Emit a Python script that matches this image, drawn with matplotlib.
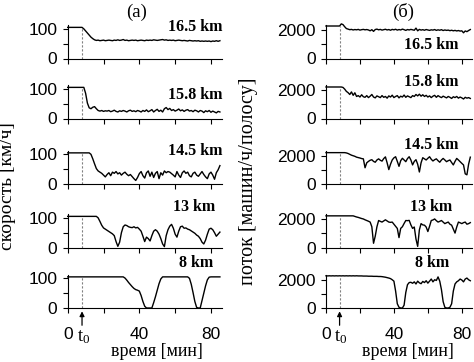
import matplotlib
matplotlib.use("Agg")
import matplotlib.pyplot as plt

plt.rcParams["font.family"] = ["Liberation Sans", "DejaVu Sans"]

SERIF = ["Liberation Serif", "DejaVu Serif"]

# время, мин (шаг 1 мин) и момент t0
minutes = list(range(86))
t0 = 8

stations = ["16.5 km", "15.8 km", "14.5 km", "13 km", "8 km"]

# скорость, км/ч
speed_165 = [105, 105, 105, 105, 105, 105, 105, 105, 105, 100,
             93, 86, 79, 72, 67, 63, 61, 62, 60, 61,
             62, 60, 61, 62, 61, 60, 62, 61, 63, 61,
             62, 64, 61, 62, 60, 61, 62, 61, 62, 60,
             61, 62, 61, 60, 62, 61, 62, 61, 63, 62,
             61, 62, 63, 64, 62, 63, 61, 62, 61, 62,
             60, 61, 62, 61, 60, 61, 60, 59, 61, 60,
             59, 60, 59, 60, 58, 59, 58, 59, 58, 59,
             57, 59, 58, 60, 58, 60]
speed_158 = [105, 105, 105, 105, 105, 105, 105, 105, 105, 105,
             85, 52, 36, 33, 38, 40, 33, 27, 25, 27,
             24, 26, 25, 27, 23, 25, 28, 24, 22, 26,
             24, 27, 25, 22, 26, 28, 24, 26, 23, 27,
             25, 22, 27, 24, 29, 23, 26, 30, 22, 27,
             31, 24, 28, 22, 33, 37, 30, 34, 27, 30,
             25, 28, 32, 26, 29, 24, 28, 30, 25, 27,
             23, 28, 26, 22, 27, 25, 20, 26, 23, 27,
             21, 25, 22, 19, 24, 22]
speed_145 = [105, 105, 105, 105, 105, 105, 105, 105, 105, 105,
             105, 105, 105, 100, 85, 68, 52, 44, 40, 36,
             30, 24, 32, 38, 28, 40, 36, 42, 34, 38,
             30, 36, 40, 33, 28, 32, 25, 18, 12, 22,
             35, 42, 28, 20, 38, 44, 26, 40, 22, 36,
             42, 18, 38, 30, 44, 38, 42, 40, 35, 30,
             24, 42, 30, 22, 38, 44, 36, 40, 28, 24,
             36, 40, 30, 26, 34, 42, 32, 24, 18, 34,
             40, 30, 16, 38, 48, 62]
speed_13 = [105, 105, 105, 105, 105, 105, 105, 105, 105, 105,
            105, 105, 105, 105, 105, 105, 105, 100, 88, 75,
            66, 62, 58, 54, 50, 46, 40, 20, 4, 18,
            50, 70, 76, 74, 70, 68, 67, 70, 66, 68,
            62, 55, 38, 20, 35, 30, 22, 40, 55, 60,
            55, 45, 30, 12, 3, 40, 60, 72, 78, 65,
            45, 35, 55, 70, 72, 65, 66, 62, 60, 56,
            52, 48, 42, 38, 30, 18, 12, 25, 45, 62,
            65, 60, 50, 38, 45, 52]
speed_8 = [105, 105, 105, 105, 105, 105, 105, 105, 105, 105,
           105, 105, 105, 105, 105, 105, 105, 105, 105, 105,
           105, 105, 105, 105, 105, 105, 105, 105, 105, 105,
           105, 105, 101, 94, 86, 79, 72, 66, 62, 60,
           57, 42, 22, 6, 0, 0, 0, 0, 18, 38,
           60, 82, 98, 105, 105, 105, 105, 105, 105, 105,
           105, 105, 105, 105, 105, 105, 105, 105, 100, 80,
           52, 22, 2, 0, 0, 25, 50, 75, 95, 104,
           105, 105, 105, 105, 105, 105]

# поток, машин/ч/полосу
flow_165 = [2300, 2300, 2300, 2300, 2300, 2300, 2300, 2300, 2300, 2450,
            2400, 2250, 2120, 2080, 2040, 2060, 2020, 2050, 2030, 2060,
            2010, 2040, 2060, 2030, 2050, 2020, 1960, 2040, 1920, 2050,
            2080, 2030, 2060, 2010, 2040, 2070, 2020, 2050, 2000, 2060,
            2030, 2070, 2010, 2050, 2020, 2080, 2040, 1990, 2050, 2020,
            2060, 2030, 2000, 2150, 1960, 2060, 2010, 2040, 2000, 2050,
            2020, 1990, 2030, 2010, 2050, 1990, 2030, 2000, 2040, 1980,
            2020, 1990, 2010, 1970, 2000, 1960, 1990, 1950, 1980, 1940,
            1960, 1820, 1950, 1900, 1980, 2050]
flow_158 = [2230, 2230, 2230, 2230, 2230, 2230, 2230, 2230, 2230, 2230,
            2200, 2080, 1920, 1830, 1700, 1880, 1640, 1820, 1560, 1620,
            1520, 1680, 1540, 1500, 1620, 1480, 1580, 1700, 1520, 1460,
            1600, 1540, 1480, 1620, 1500, 1560, 1440, 1600, 1520, 1650,
            1480, 1560, 1620, 1460, 1580, 1520, 1660, 1500, 1600, 1540,
            1480, 1620, 1560, 1700, 1600, 1720, 1580, 1680, 1560, 1640,
            1520, 1600, 1480, 1580, 1640, 1500, 1620, 1540, 1480, 1580,
            1520, 1460, 1560, 1500, 1420, 1540, 1480, 1560, 1440, 1520,
            1460, 1380, 1500, 1440, 1480, 1420]
flow_145 = [2220, 2220, 2220, 2220, 2220, 2220, 2220, 2220, 2220, 2220,
            2220, 2220, 2200, 2160, 2100, 2040, 2000, 1960, 1900, 1870,
            1840, 1800, 1780, 1150, 1500, 1600, 1680, 1720, 1600, 1540,
            1700, 1780, 1680, 1620, 1800, 1920, 1500, 1020, 1400, 1700,
            1850, 1930, 1600, 1250, 1650, 1820, 1700, 1580, 1800, 1930,
            1700, 1350, 1600, 1720, 1400, 850, 1500, 1860, 1780, 1700,
            1820, 1930, 1750, 1630, 1720, 1780, 1650, 1540, 1700, 1810,
            1700, 1580, 1650, 1700, 1520, 1350, 1600, 1810, 1700, 1580,
            1460, 1350, 720, 650, 1400, 1900]
flow_13 = [2240, 2240, 2240, 2240, 2240, 2240, 2240, 2240, 2240, 2240,
           2240, 2240, 2240, 2240, 2240, 2240, 2240, 2200, 2160, 2130,
           2090, 2050, 2020, 1960, 1910, 1860, 1800, 1470, 300, 800,
           1470, 1910, 1850, 1800, 1880, 1960, 1880, 1800, 1780, 1800,
           1650, 1500, 1350, 700, 1355, 1470, 1700, 1910, 1900, 1920,
           1600, 1355, 1450, 600, 80, 1250, 1690, 1600, 1580, 1450,
           1130, 1500, 1910, 1950, 2020, 1900, 1800, 1850, 1910, 1800,
           1690, 1750, 1800, 1650, 1580, 1300, 1020, 1450, 1800, 1750,
           1690, 1760, 1800, 1650, 1690, 1760]
flow_8 = [2280, 2270, 2280, 2270, 2280, 2270, 2280, 2270, 2280, 2270,
          2280, 2270, 2280, 2270, 2280, 2270, 2280, 2270, 2280, 2270,
          2270, 2270, 2260, 2260, 2260, 2250, 2250, 2250, 2240, 2240,
          2240, 2230, 2230, 2220, 2200, 2180, 2150, 2120, 2080, 2000,
          1900, 1200, 300, 50, 0, 0, 200, 1100, 1650, 1800,
          1820, 1750, 1850, 1700, 1900, 1780, 1720, 1880, 1800, 1930,
          1760, 1900, 2050, 1850, 2000, 1950, 2200, 1900, 1300, 450,
          50, 0, 0, 50, 300, 1200, 1700, 1850, 1930, 2050,
          1980, 1850, 2050, 2120, 2000, 1930]

speeds = [speed_165, speed_158, speed_145, speed_13, speed_8]
flows = [flow_165, flow_158, flow_145, flow_13, flow_8]

# подписи станций: (правый край, центр по y) в пикселях
speed_lbl_px = [(222, 27), (222, 95), (222, 151), (215, 207), (213, 263)]
flow_lbl_px = [(458, 45), (458, 82), (458, 145), (452, 207), (449, 263)]

W, H = 474, 362
bottoms_px = [58.5, 118.5, 184, 247.5, 308]
height_px = 33.2

fig = plt.figure(figsize=(W / 100, H / 100), dpi=100)


def panel(x0, w, b, data, ymax, yticks, ylabels, last):
    ax = fig.add_axes([x0 / W, 1 - b / H, w / W, height_px / H])
    ax.plot(minutes, data, color="black", lw=1.0, clip_on=False, zorder=3)
    ax.vlines(t0, 0, data[t0], colors="#808080", linestyles=(0, (2, 1.6)), lw=0.8)
    ax.set_xlim(0, 86)
    ax.set_ylim(0, ymax)
    for s in ("top", "right"):
        ax.spines[s].set_visible(False)
    for s in ("left", "bottom"):
        ax.spines[s].set_linewidth(0.8)
    ax.set_yticks(yticks, ylabels)
    ax.set_xticks([0, 20, 40, 60, 80],
                  ["0", "", "40", "", "80"] if last else [""] * 5)
    ax.tick_params(direction="out", length=3.5, width=0.8, labelsize=12.5)
    ax.tick_params(axis="y", pad=4)
    ax.tick_params(axis="x", pad=10 if last else 2)
    if last:
        ax.annotate("", xy=(t0, -0.1), xytext=(t0, -0.52),
                    xycoords=("data", "axes fraction"),
                    arrowprops=dict(arrowstyle="-|>", lw=0.9, color="black",
                                    mutation_scale=7, shrinkA=0, shrinkB=0))
        ax.text(t0 + 0.8, -0.6, r"$\mathregular{t_0}$", transform=ax.get_xaxis_transform(),
                ha="center", va="top", fontsize=13.5, family=SERIF)
    return ax


for i in range(5):
    last = i == 4
    panel(67.7, 154, bottoms_px[i], speeds[i], 112, [0, 50, 100], ["0", "", "100"], last)
    panel(326, 146, bottoms_px[i], flows[i], 2350, [0, 1000, 2000], ["0", "", "2000"], last)
    for (px, py) in (speed_lbl_px[i], flow_lbl_px[i]):
        fig.text(px / W, 1 - py / H, stations[i], ha="right", va="center",
                 fontsize=11.5, fontweight="bold", family=SERIF)

fig.text(137 / W, 1 - 12 / H, "(a)", ha="center", va="center", fontsize=13.5, family=SERIF)
fig.text(403 / W, 1 - 12 / H, "(б)", ha="center", va="center", fontsize=13.5, family=SERIF)
fig.text(8 / W, 1 - 186 / H, "скорость [км/ч]", rotation=90, ha="center", va="center",
         fontsize=14, family=SERIF)
fig.text(248 / W, 1 - 181 / H, "поток [машин/ч/полосу]", rotation=90, ha="center",
         va="center", fontsize=14.5, family=SERIF)
fig.text(157 / W, 1 - 352 / H, "время [мин]", ha="center", va="center", fontsize=13,
         family=SERIF)
fig.text(408 / W, 1 - 352 / H, "время [мин]", ha="center", va="center", fontsize=13,
         family=SERIF)

fig.savefig("out.png", dpi=100)
